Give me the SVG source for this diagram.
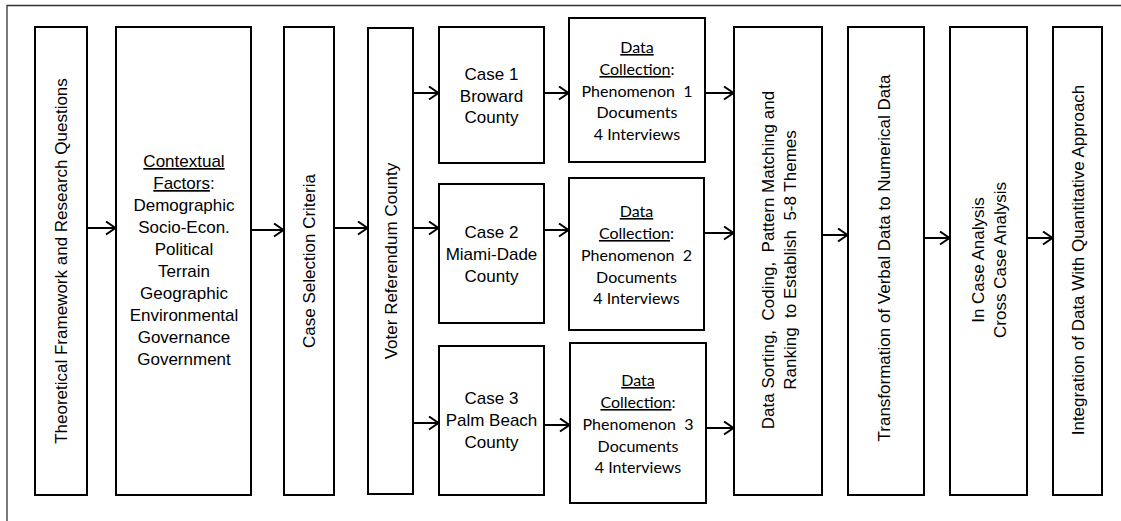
<svg xmlns="http://www.w3.org/2000/svg" width="1121" height="521" viewBox="0 0 1121 521">
<style>
.box{fill:#fff;stroke:#000;stroke-width:2}
.a{font-family:"Liberation Sans",Arial,sans-serif;font-size:17px;fill:#000;text-anchor:middle}
.c{font-family:Lato,"Open Sans",sans-serif;font-size:16px;fill:#000;text-anchor:middle}
.u{text-decoration:underline}
.arr{stroke:#000;stroke-width:2;fill:none;marker-end:url(#ah)}
</style>
<defs>
<marker id="ah" markerUnits="userSpaceOnUse" markerWidth="14" markerHeight="16" refX="11" refY="7" orient="auto" viewBox="0 0 14 16">
<path d="M1,0.5 L10.5,7 L1,13.5" fill="none" stroke="#000" stroke-width="2"/>
</marker>
</defs>
<rect width="1121" height="521" fill="#fff"/>
<g id="frame"><path d="M7,521 V5.5 H1121" fill="none" stroke="#333" stroke-width="1.3"/></g>

<g id="n1"><rect class="box" x="35" y="27" width="52" height="468"/>
<text class="a" transform="translate(61,261) rotate(-90)" y="6">Theoretical Framework and Research Questions</text></g>

<g id="n2"><rect class="box" x="116" y="27" width="135" height="468"/>
<text class="a" x="184"><tspan x="184" y="167" class="u">Contextual</tspan><tspan x="184" y="189"><tspan class="u">Factors</tspan>:</tspan><tspan x="184" y="211">Demographic</tspan><tspan x="184" y="233">Socio-Econ.</tspan><tspan x="184" y="255">Political</tspan><tspan x="184" y="277">Terrain</tspan><tspan x="184" y="299">Geographic</tspan><tspan x="184" y="321">Environmental</tspan><tspan x="184" y="343">Governance</tspan><tspan x="184" y="365">Government</tspan></text></g>

<g id="n3"><rect class="box" x="284" y="27" width="50" height="468"/>
<text class="a" transform="translate(309,261) rotate(-90)" y="6">Case Selection Criteria</text></g>

<g id="n4"><rect class="box" x="368" y="28" width="45" height="466"/>
<text class="a" transform="translate(390.5,261) rotate(-90)" y="6">Voter Referendum County</text></g>

<g id="case1"><rect class="box" x="439" y="27" width="105" height="136"/>
<text class="a"><tspan x="491.5" y="80">Case 1</tspan><tspan x="491.5" y="101.5">Broward</tspan><tspan x="491.5" y="123">County</tspan></text></g>

<g id="case2"><rect class="box" x="439" y="184" width="105" height="139"/>
<text class="a"><tspan x="491.5" y="238">Case 2</tspan><tspan x="491.5" y="260">Miami-Dade</tspan><tspan x="491.5" y="282">County</tspan></text></g>

<g id="case3"><rect class="box" x="439" y="346" width="105" height="149"/>
<text class="a"><tspan x="491.5" y="404">Case 3</tspan><tspan x="491.5" y="426">Palm Beach</tspan><tspan x="491.5" y="448">County</tspan></text></g>

<g id="dc1"><rect class="box" x="569" y="18" width="136" height="144"/>
<text class="c" xml:space="preserve"><tspan x="637" y="53" class="u">Data</tspan><tspan x="637" y="75"><tspan class="u">Collection</tspan>:</tspan><tspan x="637" y="97">Phenomenon  1</tspan><tspan x="637" y="118">Doc<tspan font-weight="bold">u</tspan>ments</tspan><tspan x="637" y="140">4 Interviews</tspan></text></g>

<g id="dc2"><rect class="box" x="569" y="178" width="135" height="152"/>
<text class="c" xml:space="preserve"><tspan x="636.5" y="217" class="u">Data</tspan><tspan x="636.5" y="239"><tspan class="u">Collection</tspan>:</tspan><tspan x="636.5" y="261">Phenomenon  2</tspan><tspan x="636.5" y="283">Documents</tspan><tspan x="636.5" y="304">4 Interviews</tspan></text></g>

<g id="dc3"><rect class="box" x="570" y="343" width="136" height="160"/>
<text class="c" xml:space="preserve"><tspan x="638" y="386" class="u">Data</tspan><tspan x="638" y="408"><tspan class="u">Collection</tspan>:</tspan><tspan x="638" y="430">Phenomenon  3</tspan><tspan x="638" y="452">Documents</tspan><tspan x="638" y="473">4 Interviews</tspan></text></g>

<g id="n5"><rect class="box" x="734" y="27" width="88" height="468"/>
<text class="a" xml:space="preserve" transform="translate(778,260) rotate(-90)"><tspan x="0" y="-4">Data Sorting,  Coding,  Pattern Matching and</tspan><tspan x="0" y="18">Ranking  to Establish  5-8 Themes</tspan></text></g>

<g id="n6"><rect class="box" x="848" y="27" width="76" height="468"/>
<text class="a" transform="translate(886,258) rotate(-90)" y="4">Transformation of Verbal Data to Numerical Data</text></g>

<g id="n7"><rect class="box" x="950" y="27" width="77" height="468"/>
<text class="a" transform="translate(988.5,260) rotate(-90)"><tspan x="0" y="-4.5">In Case Analysis</tspan><tspan x="0" y="17">Cross Case Analysis</tspan></text></g>

<g id="n8"><rect class="box" x="1053" y="27" width="49" height="468"/>
<text class="a" transform="translate(1077.5,260) rotate(-90)" y="6">Integration of Data With Quantitative Approach</text></g>

<g id="connectors">
<line class="arr" x1="87" y1="228" x2="116" y2="228"/>
<line class="arr" x1="251" y1="230" x2="284" y2="230"/>
<line class="arr" x1="334" y1="228" x2="368" y2="228"/>
<line class="arr" x1="413" y1="93" x2="439" y2="93"/>
<line class="arr" x1="413" y1="228" x2="439" y2="228"/>
<line class="arr" x1="413" y1="423" x2="439" y2="423"/>
<line class="arr" x1="544" y1="93" x2="569" y2="93"/>
<line class="arr" x1="544" y1="230" x2="569" y2="230"/>
<line class="arr" x1="544" y1="425" x2="570" y2="425"/>
<line class="arr" x1="705" y1="93" x2="734" y2="93"/>
<line class="arr" x1="704" y1="233" x2="734" y2="233"/>
<line class="arr" x1="706" y1="428" x2="734" y2="428"/>
<line class="arr" x1="822" y1="235" x2="848" y2="235"/>
<line class="arr" x1="924" y1="238" x2="950" y2="238"/>
<line class="arr" x1="1027" y1="238" x2="1053" y2="238"/>
</g>
</svg>
